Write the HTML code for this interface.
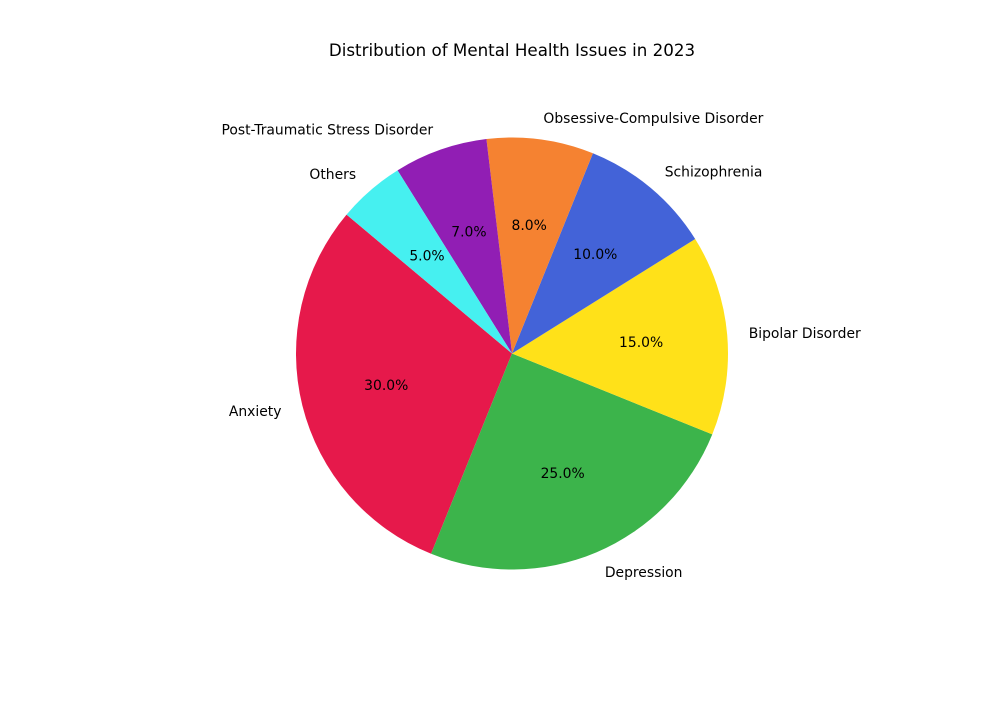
<!DOCTYPE html>
<html><head><meta charset="utf-8"><style>
html,body{margin:0;padding:0;background:#fff;}
svg text{font-family:"DejaVu Sans","Liberation Sans",sans-serif;}
</style></head><body>
<svg id="chart" width="1000" height="700" viewBox="0 0 1000 700">
<rect width="1000" height="700" fill="#fff"/>
<text x="512" y="56" text-anchor="middle" font-size="16.7" fill="#000">Distribution of Mental Health Issues in 2023</text>
<g id="slices"></g>
</svg>
<script>
const categories = ["Anxiety","Depression","Bipolar Disorder","Schizophrenia","Obsessive-Compulsive Disorder","Post-Traumatic Stress Disorder","Others"];
const values = [30,25,15,10,8,7,5];
const colors = ["#e6194b","#3cb44b","#ffe119","#4363d8","#f58231","#911eb4","#46f0f0"];
const cx=512, cy=353.5, r=216, startAngle=140;
const g=document.getElementById('slices');
const ns="http://www.w3.org/2000/svg";
const total=values.reduce((a,b)=>a+b,0);
function pt(deg,rad){const a=deg*Math.PI/180;return [cx+rad*Math.cos(a), cy-rad*Math.sin(a)];}
let ang=startAngle;
values.forEach((v,i)=>{
  const sweep=v/total*360, a0=ang, a1=ang+sweep;
  const p0=pt(a0,r), p1=pt(a1,r);
  const path=document.createElementNS(ns,'path');
  path.setAttribute('d',`M${cx},${cy} L${p0[0]},${p0[1]} A${r},${r} 0 ${sweep>180?1:0} 0 ${p1[0]},${p1[1]} Z`);
  path.setAttribute('fill',colors[i]);
  
  
  g.appendChild(path);
  const mid=(a0+a1)/2;
  const lp=pt(mid,r*1.1);
  const lt=document.createElementNS(ns,'text');
  lt.setAttribute('x',lp[0]);lt.setAttribute('y',lp[1]+5);
  lt.setAttribute('font-size','13.9');
  lt.setAttribute('text-anchor',Math.cos(mid*Math.PI/180)>=0?'start':'end');
  lt.textContent=categories[i];
  
  
  g.appendChild(lt);
  const pp=pt(mid,r*0.6);
  const pt2=document.createElementNS(ns,'text');
  pt2.setAttribute('x',pp[0]);pt2.setAttribute('y',pp[1]+5);
  pt2.setAttribute('font-size','13.9');
  pt2.setAttribute('text-anchor','middle');
  pt2.textContent=(v/total*100).toFixed(1)+'%';
  
  
  g.appendChild(pt2);
  ang=a1;
});
</script>
</body></html>
